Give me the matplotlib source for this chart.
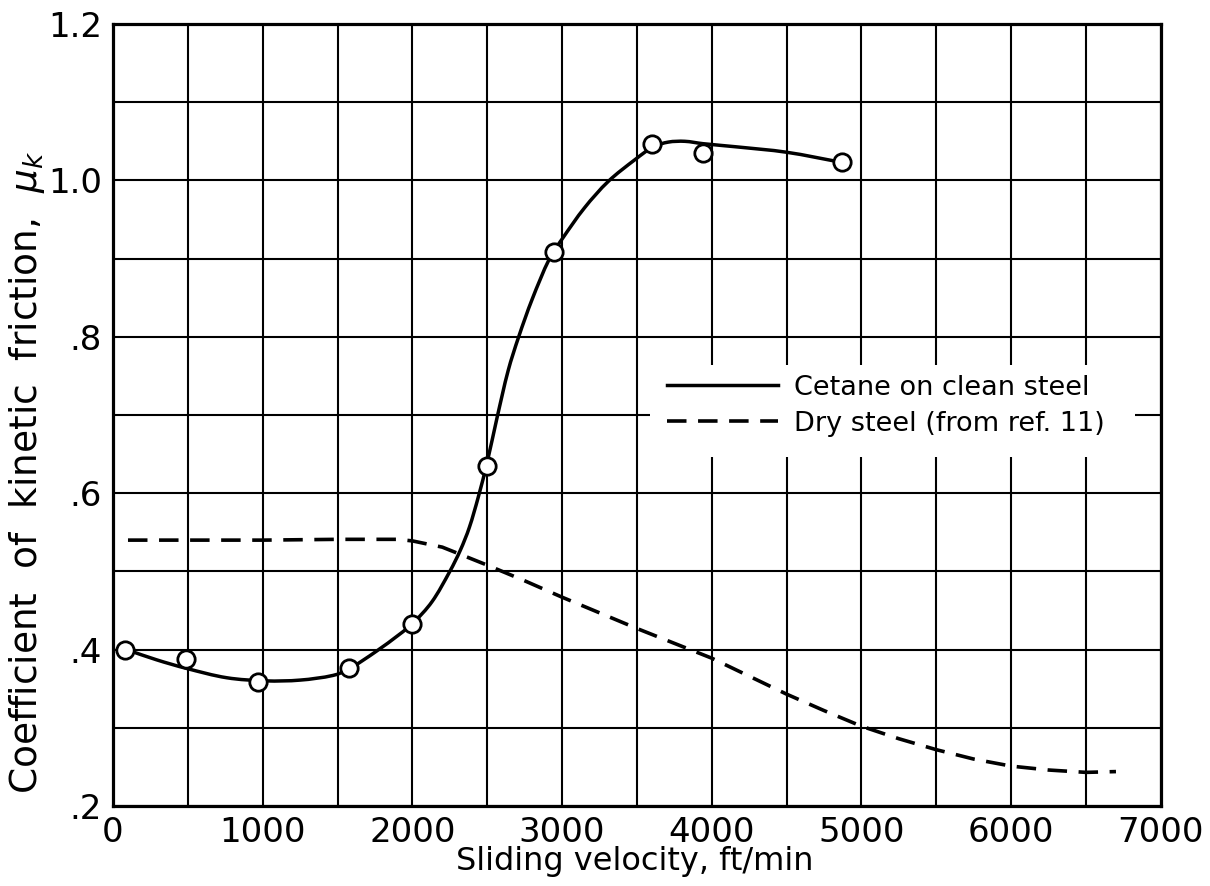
import numpy as np
import matplotlib
matplotlib.use("Agg")
import matplotlib.pyplot as plt
from matplotlib.path import Path
from matplotlib.patches import PathPatch, Rectangle
from matplotlib.lines import Line2D

# measured points, cetane on clean steel
cetane_v = [80, 490, 970, 1575, 2000, 2500, 2945, 3600, 3940, 4870]
cetane_mu = [0.399, 0.388, 0.359, 0.377, 0.433, 0.635, 0.909, 1.047, 1.035, 1.023]

# faired curve through the cetane data
fair_v = [90, 290, 490, 760, 1020, 1250, 1470, 1575, 1760, 1910, 2000, 2130,
          2250, 2320, 2380, 2440, 2500, 2566, 2640, 2710, 2800, 2916, 3000,
          3150, 3310, 3490, 3610, 3710, 3820, 3940, 4160, 4500, 4870]
fair_mu = [0.400, 0.387, 0.376, 0.364, 0.360, 0.361, 0.367, 0.375, 0.398, 0.419,
           0.433, 0.461, 0.500, 0.527, 0.556, 0.595, 0.640, 0.697, 0.757, 0.800,
           0.848, 0.900, 0.925, 0.965, 0.999, 1.027, 1.043, 1.049, 1.050, 1.047,
           1.043, 1.036, 1.023]

# dry steel, ref. 11
dry_v = [100, 500, 1000, 1500, 1900, 2000, 2200, 2500, 2750, 3000, 3250, 3500,
         3750, 4000, 4250, 4500, 4750, 5000, 5250, 5500, 5750, 6000, 6250,
         6500, 6700]
dry_mu = [0.540, 0.540, 0.540, 0.541, 0.541, 0.539, 0.531, 0.508, 0.488, 0.467,
          0.447, 0.427, 0.408, 0.389, 0.366, 0.343, 0.322, 0.302, 0.286, 0.272,
          0.260, 0.251, 0.246, 0.243, 0.244]

x_ticks = [0, 1000, 2000, 3000, 4000, 5000, 6000, 7000]
x_labels = ["0", "1000", "2000", "3000", "4000", "5000", "6000", "7000"]
y_ticks = [0.2, 0.4, 0.6, 0.8, 1.0, 1.2]
y_labels = [".2", ".4", ".6", ".8", "1.0", "1.2"]

plt.rcParams['font.family'] = ['DejaVu Sans']
plt.rcParams['mathtext.fontset'] = 'dejavusans'


def smooth_path(xs, ys, sx, sy):
    # cubic bezier through the points, tangents from neighbours (chord weighted)
    p = np.column_stack([np.asarray(xs) / sx, np.asarray(ys) / sy])
    n = len(p)
    d = np.hypot(*np.diff(p, axis=0).T)
    tang = np.zeros_like(p)
    tang[0] = (p[1] - p[0]) / d[0]
    tang[-1] = (p[-1] - p[-2]) / d[-1]
    for i in range(1, n - 1):
        tang[i] = (p[i + 1] - p[i - 1]) / (d[i - 1] + d[i])
    verts = [p[0]]
    codes = [Path.MOVETO]
    for i in range(n - 1):
        c1 = p[i] + tang[i] * d[i] / 3
        c2 = p[i + 1] - tang[i + 1] * d[i] / 3
        verts += [c1, c2, p[i + 1]]
        codes += [Path.CURVE4] * 3
    verts = np.array(verts) * [sx, sy]
    return Path(verts, codes)


fig = plt.figure(figsize=(12.1, 8.86), dpi=100)
ax = fig.add_axes([0.0934, 0.0903, 0.866, 0.8826])
ax.set_xlim(0, 7000)
ax.set_ylim(0.2, 1.2)

ax.set_xticks(np.arange(0, 7001, 500), minor=True)
ax.set_yticks(np.arange(0.2, 1.201, 0.1), minor=True)
ax.set_xticks(x_ticks)
ax.set_xticklabels(x_labels)
ax.set_yticks(y_ticks)
ax.set_yticklabels(y_labels)
ax.grid(True, which='both', color='black', lw=1.5)
ax.set_axisbelow(True)
ax.tick_params(which='both', length=0)
ax.tick_params(axis='x', labelsize=24.5, pad=7)
ax.tick_params(axis='y', labelsize=24.5, pad=8)
for s in ax.spines.values():
    s.set_linewidth(2.3)

# blank out the grid behind the key
ax.add_patch(Rectangle((3590, 0.646), 3240, 0.118, facecolor='white',
                       edgecolor='none', zorder=1.5))

ax.add_patch(PathPatch(smooth_path(fair_v, fair_mu, 7000, 1.0), facecolor='none',
                       edgecolor='black', lw=2.5, zorder=3))
ax.plot(dry_v, dry_mu, color='black', lw=2.6, dashes=(5.4, 3.2), zorder=3)
ax.plot(cetane_v, cetane_mu, 'o', ms=12.5, mfc='white', mec='black', mew=2.0,
        zorder=4)

handles = [Line2D([], [], color='black', lw=2.5),
           Line2D([], [], color='black', lw=2.6, dashes=(5.4, 3.2))]
ax.legend(handles, ["Cetane on clean steel", "Dry steel (from ref. 11)"],
          loc='upper left', bbox_to_anchor=(0.551, 0.577),
          bbox_transform=fig.transFigure, frameon=False, fontsize=19.5,
          handlelength=4.1, handletextpad=0.6, labelspacing=0.36,
          borderpad=0, borderaxespad=0)

ax.set_xlabel("Sliding velocity, ft/min", fontsize=23)
ax.set_ylabel(r"Coefficient  of  kinetic  friction,  $\mu_k$", fontsize=27)
ax.xaxis.set_label_coords(0.498, -0.051)
ax.yaxis.set_label_coords(-0.063, 0.427)

fig.savefig("out.png", dpi=100)
